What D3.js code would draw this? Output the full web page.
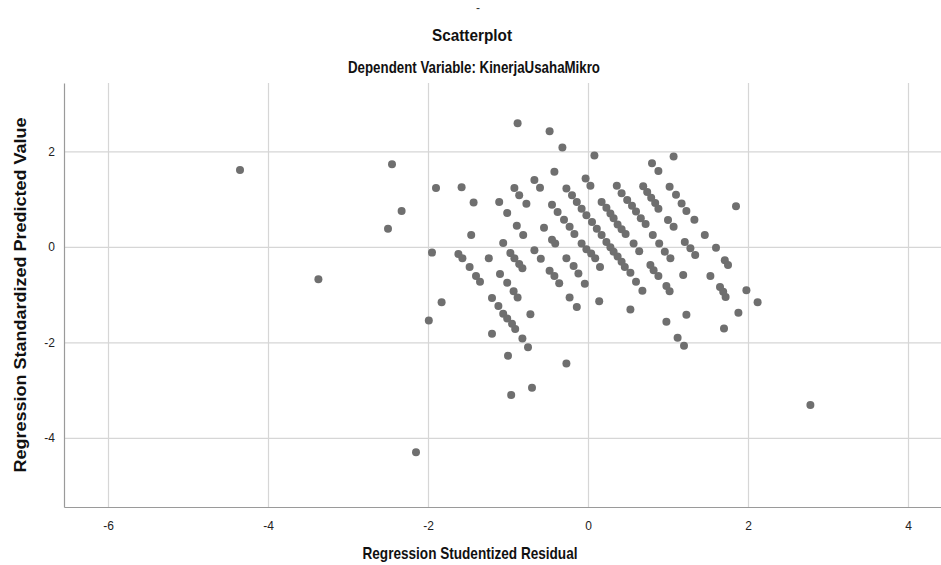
<!DOCTYPE html>
<html>
<head>
<meta charset="utf-8">
<script src="https://cdn.jsdelivr.net/npm/d3@7"></script>
<style>
  body { margin: 0; background: #fff; }
  text { font-family: "Liberation Sans", Arial, sans-serif; }
</style>
</head>
<body>
<svg id="chart" width="941" height="565"></svg>
<script>
// Regression Studentized Residual (x) / Regression Standardized Predicted Value (y)
const residual = [
  -4.35, -3.37, -2.15, -2.45, -2.33, -2.50, -1.95, -1.83, -1.99, -1.90, -1.58, -1.43, -1.46, -1.24,
  -1.62, -1.57, -1.48, -1.40, -1.35, -1.20, -1.12, -1.06, -1.01, -0.95, -0.91, -0.82, -0.75,
  -1.20, -1.00, -0.70, -0.96,
  -1.10, -1.01, -0.93, -0.88, -0.72, -0.27,
  -1.06, -0.97, -0.92, -0.86, -0.82,
  -1.11, -1.01, -0.89, -0.81, -0.67, -0.59, -0.48, -0.42, -0.36, -0.23, -0.14,
  -0.92, -0.86, -0.77, -0.55, -0.45, -0.41, -0.27, -0.18, -0.12, -0.04, 0.14,
  -0.67, -0.60, -0.45, -0.38, -0.30, -0.23, -0.17, -0.08, -0.02, 0.04, 0.09, 0.15, 0.53,
  -0.88, -0.42, -0.27, -0.20, -0.14, -0.08, -0.02, 0.05, 0.11, 0.17, 0.23, 0.28, 0.32, 0.37, 0.42, 0.46, 0.53, 0.60, 0.68, 0.98, 1.12, 1.20,
  -0.48, -0.32, -0.03, 0.03, 0.17, 0.23, 0.28, 0.32, 0.37, 0.42, 0.47, 0.57, 0.64, 0.78, 0.82, 0.88, 0.98, 1.02, 1.23,
  0.08, 0.36, 0.42, 0.49, 0.55, 0.60, 0.66, 0.72, 0.81, 0.89, 0.96, 1.03, 1.19, 1.70,
  0.69, 0.74, 0.79, 0.84, 0.88, 1.00, 1.07, 1.21, 1.28, 1.34, 1.53, 1.65, 1.69, 1.72, 1.88, 2.78,
  0.80, 0.88, 1.02, 1.10, 1.17, 1.23, 1.33, 1.46, 1.60, 1.71, 1.75, 1.98, 2.12,
  1.07, 1.85
];

const predicted = [
  1.61, -0.68, -4.30, 1.73, 0.75, 0.38, -0.12, -1.16, -1.54, 1.23, 1.25, 0.93, 0.25, -0.24,
  -0.15, -0.24, -0.42, -0.61, -0.73, -1.07, -1.24, -1.40, -1.50, -1.61, -1.72, -1.92, -2.10,
  -1.82, -2.28, -2.95, -3.10,
  -0.57, -0.75, -0.93, -1.06, -1.41, -2.44,
  0.08, -0.13, -0.24, -0.36, -0.45,
  0.94, 0.71, 0.44, 0.25, -0.07, -0.25, -0.50, -0.61, -0.76, -1.06, -1.26,
  1.23, 1.08, 0.90, 0.40, 0.15, 0.07, -0.24, -0.40, -0.56, -0.77, -1.14,
  1.40, 1.24, 0.88, 0.73, 0.57, 0.42, 0.27, 0.07, -0.05, -0.14, -0.24, -0.42, -1.31,
  2.59, 1.57, 1.22, 1.08, 0.94, 0.80, 0.66, 0.52, 0.38, 0.25, 0.10, -0.01, -0.10, -0.20, -0.31, -0.42, -0.54, -0.73, -0.92, -1.57, -1.90, -2.07,
  2.42, 2.08, 1.43, 1.28, 0.94, 0.82, 0.70, 0.60, 0.47, 0.37, 0.27, 0.07, -0.09, -0.38, -0.49, -0.61, -0.82, -0.93, -1.42,
  1.91, 1.28, 1.12, 0.98, 0.86, 0.74, 0.60, 0.48, 0.25, 0.07, -0.10, -0.24, -0.59, -1.71,
  1.27, 1.15, 1.03, 0.92, 0.80, 0.56, 0.42, 0.10, -0.03, -0.17, -0.61, -0.84, -0.94, -1.05, -1.38, -3.31,
  1.75, 1.59, 1.26, 1.09, 0.91, 0.75, 0.57, 0.25, -0.02, -0.28, -0.38, -0.91, -1.16,
  1.89, 0.85
];

const xTicks = [-6, -4, -2, 0, 2, 4];
const yTicks = [-4, -2, 0, 2];

const title = 'Scatterplot';
const subtitle = 'Dependent Variable: KinerjaUsahaMikro';
const xLabel = 'Regression Studentized Residual';
const yLabel = 'Regression Standardized Predicted Value';

const width = 941;
const height = 565;
const margin = { top: 83, right: 0, bottom: 58, left: 64 };
const titleX = 472;

const data = residual.map((r, i) => ({ residual: r, predicted: predicted[i] }));

const x = d3.scaleLinear()
  .domain([-6.55, 4.4125])
  .range([margin.left, width - margin.right]);

const y = d3.scaleLinear()
  .domain([-5.445, 3.43])
  .range([height - margin.bottom, margin.top]);

const svg = d3.select('#chart');

// grid
svg.append('g')
  .attr('transform', `translate(0,${height - margin.bottom})`)
  .call(d3.axisBottom(x).tickValues(xTicks).tickSize(-(height - margin.top - margin.bottom)).tickFormat(''))
  .call(g => g.select('.domain').remove())
  .call(g => g.selectAll('.tick line').attr('stroke', '#d6d6d6').attr('stroke-width', 1.2));

svg.append('g')
  .attr('transform', `translate(${margin.left},0)`)
  .call(d3.axisLeft(y).tickValues(yTicks).tickSize(-(width - margin.left - margin.right)).tickFormat(''))
  .call(g => g.select('.domain').remove())
  .call(g => g.selectAll('.tick line').attr('stroke', '#d6d6d6').attr('stroke-width', 1.2));

// axes
const xAxis = g => g
  .attr('transform', `translate(0,${height - margin.bottom})`)
  .call(d3.axisBottom(x).tickValues(xTicks).tickSize(0).tickPadding(14).tickFormat(d => String(d)))
  .call(g => g.select('.domain').attr('stroke', '#9a9a9a').attr('stroke-width', 1.2))
  .call(g => g.selectAll('text').attr('font-size', 12).attr('fill', '#222')
    .style('font-family', '"Liberation Sans", Arial, sans-serif'));

const yAxis = g => g
  .attr('transform', `translate(${margin.left},0)`)
  .call(d3.axisLeft(y).tickValues(yTicks).tickSize(0).tickPadding(9).tickFormat(d => String(d)))
  .call(g => g.select('.domain').attr('stroke', '#9a9a9a').attr('stroke-width', 1.2))
  .call(g => g.selectAll('text').attr('font-size', 12).attr('fill', '#222')
    .style('font-family', '"Liberation Sans", Arial, sans-serif'));

svg.append('g').call(xAxis);
svg.append('g').call(yAxis);

// points
svg.append('g')
  .selectAll('circle')
  .data(data)
  .join('circle')
  .attr('cx', d => x(d.residual))
  .attr('cy', d => y(d.predicted))
  .attr('r', 4)
  .attr('fill', '#6f6f6f');

// titles
svg.append('text')
  .attr('x', 478).attr('y', 12)
  .attr('text-anchor', 'middle')
  .attr('font-size', 12)
  .attr('fill', '#333')
  .text('-');

svg.append('text')
  .attr('x', titleX).attr('y', 41)
  .attr('text-anchor', 'middle')
  .attr('font-size', 17).attr('font-weight', 'bold')
  .attr('textLength', 80).attr('lengthAdjust', 'spacingAndGlyphs')
  .attr('fill', '#111')
  .text(title);

svg.append('text')
  .attr('x', titleX + 2).attr('y', 73)
  .attr('text-anchor', 'middle')
  .attr('font-size', 17).attr('font-weight', 'bold')
  .attr('textLength', 252).attr('lengthAdjust', 'spacingAndGlyphs')
  .attr('fill', '#111')
  .text(subtitle);

svg.append('text')
  .attr('x', titleX - 2).attr('y', 559)
  .attr('text-anchor', 'middle')
  .attr('font-size', 17).attr('font-weight', 'bold')
  .attr('textLength', 215).attr('lengthAdjust', 'spacingAndGlyphs')
  .attr('fill', '#111')
  .text(xLabel);

svg.append('text')
  .attr('transform', `translate(26,${(margin.top + height - margin.bottom) / 2}) rotate(-90)`)
  .attr('text-anchor', 'middle')
  .attr('font-size', 17).attr('font-weight', 'bold')
  .attr('textLength', 355).attr('lengthAdjust', 'spacingAndGlyphs')
  .attr('fill', '#111')
  .text(yLabel);
</script>
</body>
</html>
